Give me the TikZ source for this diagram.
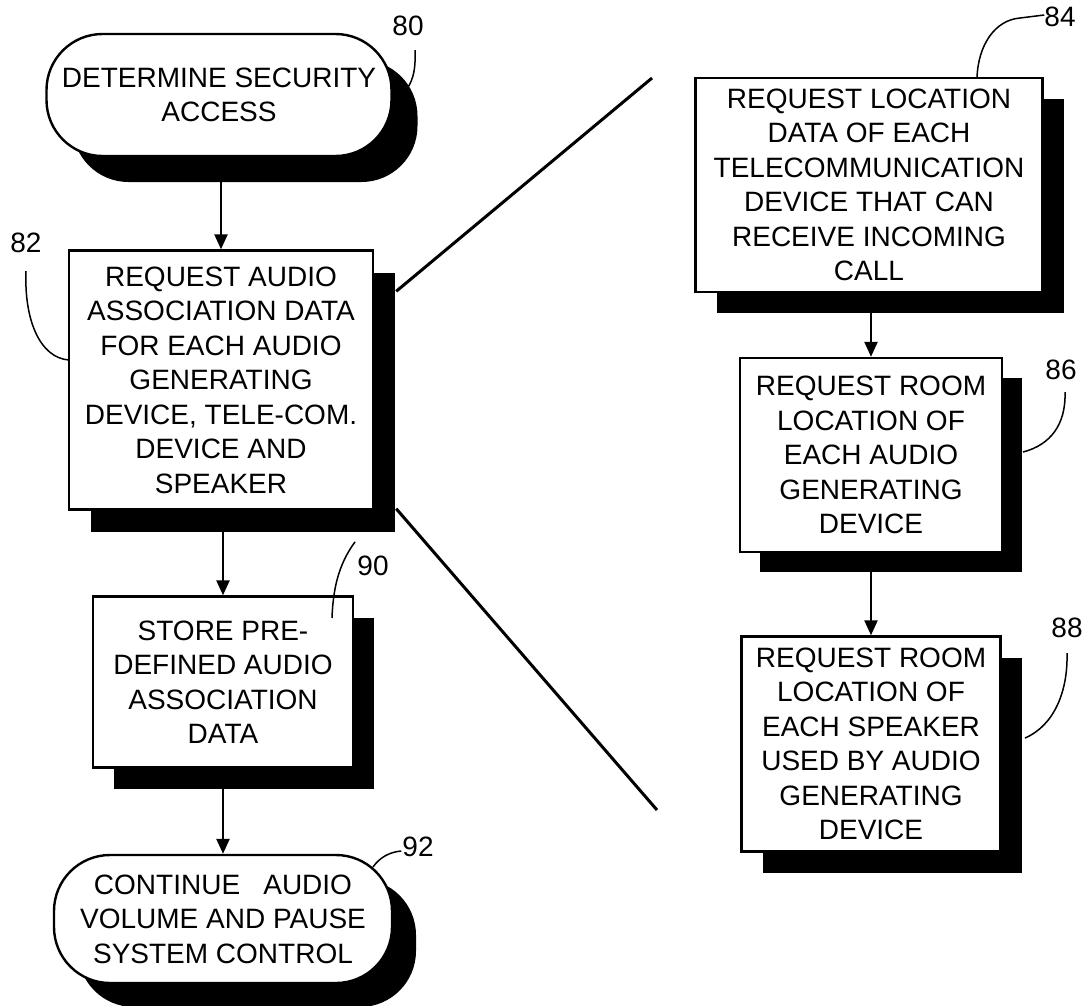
\documentclass[tikz,border=0pt]{standalone}
\usepackage{fontspec}
\setmainfont{Liberation Sans}
\usetikzlibrary{arrows.meta,shadows}
\begin{document}
\begin{tikzpicture}[x=1pt,y=-1pt,
  every node/.style={font=\fontsize{28}{34.5}\selectfont, align=center, inner sep=0pt},
  proc/.style={draw, line width=2.4pt, fill=white,
     general shadow={fill=black, shadow xshift=#1pt, shadow yshift=-#1pt}},
  proc/.default=21,
  term/.style={draw, line width=2.4pt, fill=white, rounded corners=56pt,
     general shadow={fill=black, shadow xshift=#1pt, shadow yshift=-#1pt}},
  term/.default=26,
  lbl/.style={font=\fontsize{28}{30}\selectfont},
  arr/.style={line width=2.4pt, -{Triangle[width=13pt,length=15pt]}},
  lead/.style={line width=1.5pt},
  diag/.style={line width=3pt}]
\useasboundingbox (0,0) rectangle (1086,1005);

% left column
\node[term, minimum width=345pt, minimum height=122pt] (n80) at (219,95)
  {DETERMINE SECURITY\\ACCESS};
\node[proc=22, minimum width=304pt, minimum height=259pt] (n82) at (221,380)
  {REQUEST AUDIO\\ASSOCIATION DATA\\FOR EACH AUDIO\\GENERATING\\DEVICE, TELE-COM.\\DEVICE AND\\SPEAKER};
\node[proc=21, minimum width=260pt, minimum height=171pt] (n90) at (223,682)
  {STORE PRE-\\DEFINED AUDIO\\ASSOCIATION\\DATA};
\node[term=24, minimum width=338pt, minimum height=128pt] (n92) at (223,919)
  {CONTINUE\hspace{0.55em} AUDIO\\VOLUME AND PAUSE\\SYSTEM CONTROL};

% right column
\node[proc=21, minimum width=347pt, minimum height=214pt] (n84) at (869,185)
  {REQUEST LOCATION\\DATA OF EACH\\TELECOMMUNICATION\\DEVICE THAT CAN\\RECEIVE INCOMING\\CALL};
\node[proc=20, minimum width=262pt, minimum height=194pt] (n86) at (871,455)
  {REQUEST ROOM\\LOCATION OF\\EACH AUDIO\\GENERATING\\DEVICE};
\node[proc=21, minimum width=259pt, minimum height=215pt] (n88) at (871,744)
  {REQUEST ROOM\\LOCATION OF\\EACH SPEAKER\\USED BY AUDIO\\GENERATING\\DEVICE};

% flow arrows
\draw[arr] (n82.north |- n80.south) -- (n82.north);
\draw[arr] (n90.north |- n82.south) -- (n90.north);
\draw[arr] (n92.north |- n90.south) -- (n92.north);
\draw[arr] (n86.north |- n84.south) -- (n86.north);
\draw[arr] (n88.north |- n86.south) -- (n88.north);

% expansion lines
\coordinate (d1) at (652,78);
\coordinate (d2) at (657,810);
\draw[diag] ([xshift=22pt,yshift=-42pt]n82.north east) -- (d1);
\draw[diag] ([xshift=22pt,yshift=2pt]n82.south east) -- (d2);

% reference numerals
\node[lbl] (t80) at (408,26) {80};
\node[lbl] (t82) at (26,243) {82};
\node[lbl] (t84) at (1060,17) {84};
\node[lbl] (t86) at (1061,370) {86};
\node[lbl] (t88) at (1067,628) {88};
\node[lbl] (t90) at (373,566) {90};
\node[lbl] (t92) at (418,847) {92};

\coordinate (e80) at (404,92);
\coordinate (e82) at (69,360);
\coordinate (e84) at (977,78);
\coordinate (e86) at (1023,452);
\coordinate (e88) at (1025,738);
\coordinate (e90) at (332,618);
\coordinate (e92) at (373,867);

\draw[lead] ([xshift=7pt,yshift=-14pt]t80.south) .. controls (416,72) and (412,84) .. (e80);
\draw[lead] ([yshift=-18pt]t82.south) .. controls (24,320) and (40,358) .. (e82);
\draw[lead] ([yshift=2pt]t84.west) -- (1020,18) .. controls (995,20) and (978,45) .. (e84);
\draw[lead] ([xshift=4pt,yshift=-12pt]t86.south) .. controls (1066,425) and (1050,445) .. (e86);
\draw[lead] ([yshift=-15pt]t88.south) .. controls (1068,690) and (1055,725) .. (e88);
\draw[lead] ([xshift=-18pt,yshift=14pt]t90.north) .. controls (338,565) and (333,590) .. (e90);
\draw[lead] ([xshift=-1pt,yshift=-4pt]t92.west) .. controls (390,852) and (380,857) .. (e92);
\end{tikzpicture}
\end{document}
